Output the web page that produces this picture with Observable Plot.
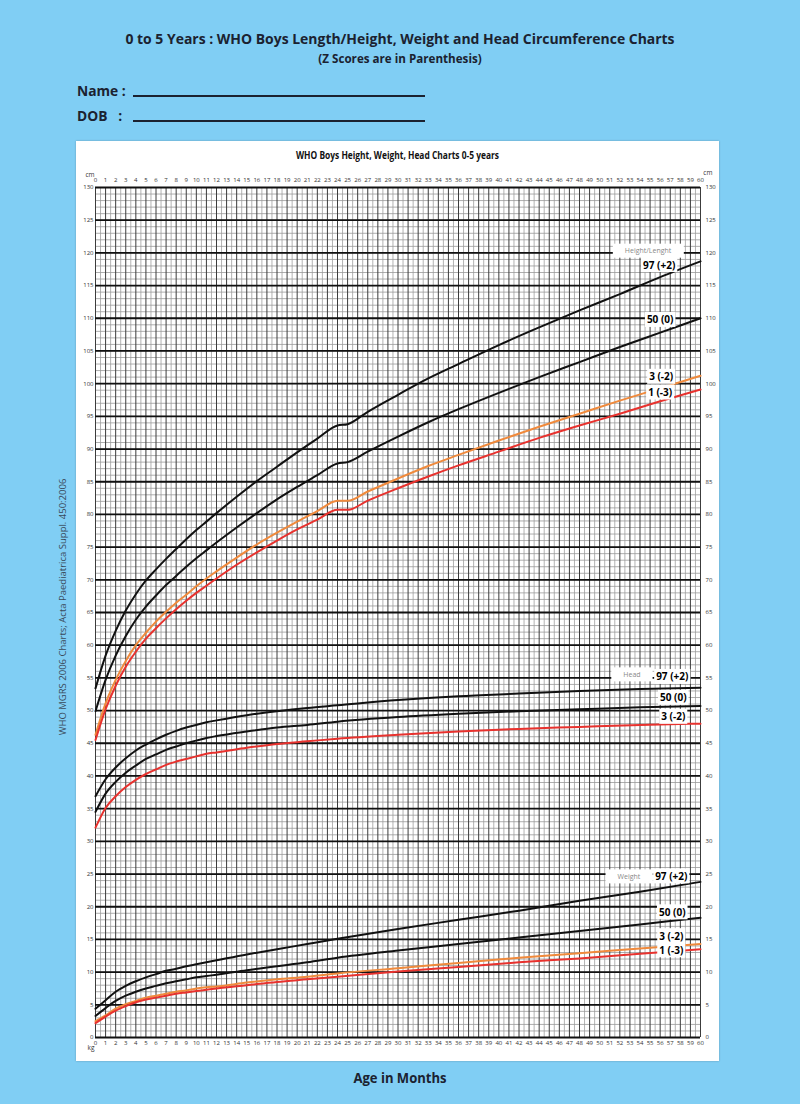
<!DOCTYPE html>
<html>
<head>
<meta charset="utf-8">
<script src="https://cdn.jsdelivr.net/npm/d3@7"></script>
<script src="https://cdn.jsdelivr.net/npm/@observablehq/plot@0.6"></script>
<style>
html,body{margin:0;padding:0;}
body{width:800px;height:1104px;background:#80cef4;position:relative;overflow:hidden;
  font-family:"Open Sans",sans-serif;color:#1b2230;}
.abs{position:absolute;white-space:nowrap;}
.center{left:0;width:800px;text-align:center;font-weight:bold;}
#title{top:28px;font-size:15px;line-height:20px;transform:scaleX(0.93);}
#sub{top:51px;font-size:12.5px;line-height:16px;transform:scaleX(0.93);}
.lbl{left:77px;font-size:15px;font-weight:bold;line-height:18px;transform:scaleX(0.92);transform-origin:left center;}
.uline{left:133px;width:292px;height:1.6px;background:#1b2230;}
#panel{left:76px;top:141px;width:643px;height:920px;background:#fff;box-shadow:0 0 2px rgba(0,0,0,0.25);}
#ptitle{position:absolute;left:0;width:643px;top:7px;text-align:center;font-size:10.5px;font-weight:bold;color:#111;transform:scaleX(0.8);}
#chart{position:absolute;left:0;top:23px;}
#side{left:62px;top:607px;transform:translate(-50%,-50%) rotate(-90deg);font-size:9.5px;color:#3a4a5a;}
#xlabel{top:1069px;font-size:14.5px;line-height:18px;transform:scaleX(0.9);}
</style>
</head>
<body>
<div id="title" class="abs center">0 to 5 Years : WHO Boys Length/Height, Weight and Head Circumference Charts</div>
<div id="sub" class="abs center">(Z Scores are in Parenthesis)</div>
<div class="abs lbl" style="top:81px;">Name :</div>
<div class="abs uline" style="top:95px;"></div>
<div class="abs lbl" style="top:106px;">DOB&nbsp;&nbsp;&nbsp;:</div>
<div class="abs uline" style="top:120px;"></div>
<div id="side" class="abs">WHO MGRS 2006 Charts; Acta Paediatrica Suppl. 450:2006</div>
<div id="panel" class="abs">
  <div id="ptitle">WHO Boys Height, Weight, Head Charts 0-5 years</div>
  <div id="chart"></div>
</div>
<div id="xlabel" class="abs center">Age in Months</div>
<script>
// ---- tick values ----
const monthTicks = d3.range(0, 61);
const halfMonthTicks = d3.range(0.5, 60, 1);
const unitTicks = d3.range(0, 131);
const fiveTicks = d3.range(0, 131, 5);

// ---- Length/Height-for-age (cm) ----
const monthsH = [0,1,2,3,4,5,6,7,8,9,10,11,12,14,16,18,20,22,24,25,27,30,33,36,40,44,48,52,56,60];
const heightP97 = [53.4,58.4,62.2,65.3,67.8,69.9,71.6,73.2,74.7,76.2,77.6,78.9,80.2,82.7,85.1,87.3,89.5,91.6,93.6,93.8,95.7,98.3,100.8,103.0,105.9,108.6,111.2,113.7,116.3,118.7];
const heightP50 = [49.9,54.7,58.4,61.4,63.9,65.9,67.6,69.2,70.6,72.0,73.3,74.5,75.7,78.0,80.2,82.3,84.2,86.0,87.8,88.0,89.6,91.9,94.1,96.1,98.6,101.0,103.3,105.6,107.8,110.0];
const heightP3  = [46.3,51.1,54.7,57.6,60.0,61.9,63.6,65.1,66.5,67.7,69.0,70.2,71.3,73.4,75.4,77.2,78.9,80.5,82.1,82.1,83.5,85.5,87.4,89.1,91.3,93.4,95.4,97.4,99.3,101.2];
const heightP1  = [45.5,50.2,53.8,56.7,59.0,61.0,62.6,64.1,65.5,66.8,68.0,69.1,70.2,72.3,74.2,76.0,77.7,79.2,80.7,80.7,82.1,84.0,85.8,87.5,89.6,91.7,93.6,95.4,97.3,99.1];

// ---- Head circumference (cm) & weight (kg) ----
const monthsW = [0,1,2,3,4,5,6,7,8,9,10,11,12,15,18,21,24,30,36,42,48,54,60];
const headP97 = [36.9,39.5,41.3,42.7,43.9,44.8,45.6,46.3,46.9,47.4,47.8,48.2,48.5,49.3,49.9,50.4,50.8,51.6,52.2,52.6,53.0,53.3,53.5];
const headP50 = [34.5,37.3,39.1,40.5,41.6,42.6,43.3,44.0,44.5,45.0,45.4,45.8,46.1,46.8,47.4,47.8,48.3,49.0,49.5,49.9,50.2,50.5,50.7];
const headP3  = [32.1,35.1,36.9,38.3,39.4,40.3,41.0,41.7,42.2,42.6,43.0,43.4,43.6,44.3,44.9,45.3,45.7,46.3,46.8,47.2,47.5,47.8,48.0];

const weightP97 = [4.4,5.7,7.0,7.9,8.6,9.2,9.7,10.2,10.5,10.9,11.2,11.5,11.8,12.7,13.5,14.3,15.1,16.6,18.0,19.4,20.9,22.3,23.8];
const weightP50 = [3.3,4.5,5.6,6.4,7.0,7.5,7.9,8.3,8.6,8.9,9.2,9.4,9.6,10.3,10.9,11.5,12.2,13.3,14.3,15.3,16.3,17.3,18.3];
const weightP3  = [2.5,3.4,4.4,5.1,5.6,6.1,6.4,6.7,7.0,7.2,7.5,7.7,7.8,8.4,8.9,9.3,9.8,10.6,11.4,12.2,12.9,13.6,14.3];
const weightP1  = [2.2,3.2,4.1,4.8,5.4,5.8,6.1,6.4,6.7,6.9,7.1,7.3,7.5,8.0,8.5,8.9,9.3,10.1,10.8,11.5,12.1,12.8,13.5];

// ---- curve labels ----
const catText  = ["Height/Lenght","Head","Weight"];
const catMonth = [54.8,53.2,52.9];
const catValue = [120.3,55.5,24.6];
const valText  = ["97 (+2)","50 (0)","3 (-2)","1 (-3)","97 (+2)","50 (0)","3 (-2)","97 (+2)","50 (0)","3 (-2)","1 (-3)"];
const valMonth = [55.9,56.0,56.1,56.0,57.2,57.3,57.3,57.1,57.2,57.1,57.1];
const valValue = [118.1,109.7,101.0,98.6,55.1,51.9,49.0,24.6,19.1,15.45,13.3];

const BLACK = "#111", ORANGE = "#f08a3c", RED = "#e8322e";
const toRows = (months, vals) => months.map((m, i) => ({month: m, value: vals[i]}));
const curves = [
  [monthsH, heightP97, BLACK], [monthsH, heightP50, BLACK], [monthsH, heightP3, ORANGE], [monthsH, heightP1, RED],
  [monthsW, headP97, BLACK], [monthsW, headP50, BLACK], [monthsW, headP3, RED],
  [monthsW, weightP97, BLACK], [monthsW, weightP50, BLACK], [monthsW, weightP3, ORANGE], [monthsW, weightP1, RED]
];
const cats = catText.map((t, i) => ({text: t, month: catMonth[i], value: catValue[i]}));
const vals = valText.map((t, i) => ({text: t, month: valMonth[i], value: valValue[i]}));

const FONT = '"Open Sans",sans-serif';
const chart = Plot.plot({
  width: 643,
  height: 897,
  marginLeft: 19,
  marginRight: 19,
  marginTop: 23,
  marginBottom: 24,
  style: {fontFamily: FONT, background: "white", color: "#333"},
  x: {domain: [0, 60]},
  y: {domain: [0, 130]},
  marks: [
    Plot.ruleX(halfMonthTicks, {stroke: "#aaaaaa", strokeWidth: 0.9}),
    Plot.ruleY(unitTicks, {stroke: "#999999", strokeWidth: 0.8}),
    Plot.ruleX(monthTicks, {stroke: "#3c3c3c", strokeWidth: 1}),
    Plot.ruleY(fiveTicks, {stroke: "#111", strokeWidth: 1.8}),
    ...curves.map(([m, v, c]) => Plot.line(toRows(m, v), {x: "month", y: "value", stroke: c, strokeWidth: 2, curve: "monotone-x"})),
    Plot.text(cats, {x: "month", y: "value", text: "text", fontSize: 7, fill: "#888"}),
    Plot.text(vals, {x: "month", y: "value", text: "text", fontSize: 10, fontWeight: "bold", fill: "#000"}),
    Plot.axisX(monthTicks, {anchor: "top", tickSize: 0, tickPadding: 6, fontSize: 6, label: null}),
    Plot.axisX(monthTicks, {anchor: "bottom", tickSize: 0, tickPadding: 3, fontSize: 6, label: null}),
    Plot.axisY(fiveTicks, {anchor: "left", tickSize: 0, tickPadding: 2, fontSize: 6, label: null}),
    Plot.axisY(fiveTicks, {anchor: "right", tickSize: 0, tickPadding: 5, fontSize: 6, label: null}),
    Plot.text(["cm"], {frameAnchor: "top-left", dx: -10, dy: -15, fontSize: 6.5, fill: "#333"}),
    Plot.text(["cm"], {frameAnchor: "top-right", dx: 12, dy: -17, fontSize: 6.5, fill: "#333"}),
    Plot.text(["kg"], {frameAnchor: "bottom-left", dx: -8, dy: 12, fontSize: 6.5, fill: "#333"})
  ]
});
document.getElementById("chart").appendChild(chart);

// white boxes behind the curve labels
const catSet = new Set(catText), valSet = new Set(valText);
chart.querySelectorAll('g[aria-label="text"]').forEach(g => {
  const texts = Array.from(g.querySelectorAll("text"));
  texts.forEach(t => {
    const s = t.textContent;
    let px, py;
    if (catSet.has(s)) { px = 12; py = 2.5; }
    else if (valSet.has(s)) { px = 2; py = 0.5; }
    else return;
    const b = t.getBBox();
    const r = document.createElementNS("http://www.w3.org/2000/svg", "rect");
    r.setAttribute("x", b.x - px);
    r.setAttribute("y", b.y - py);
    r.setAttribute("width", b.width + 2 * px);
    r.setAttribute("height", b.height + 2 * py);
    r.setAttribute("fill", "white");
    r.setAttribute("stroke", "none");
    const tr = t.getAttribute("transform");
    if (tr) r.setAttribute("transform", tr);
    g.insertBefore(r, g.firstChild);
  });
});
</script>
</body>
</html>
